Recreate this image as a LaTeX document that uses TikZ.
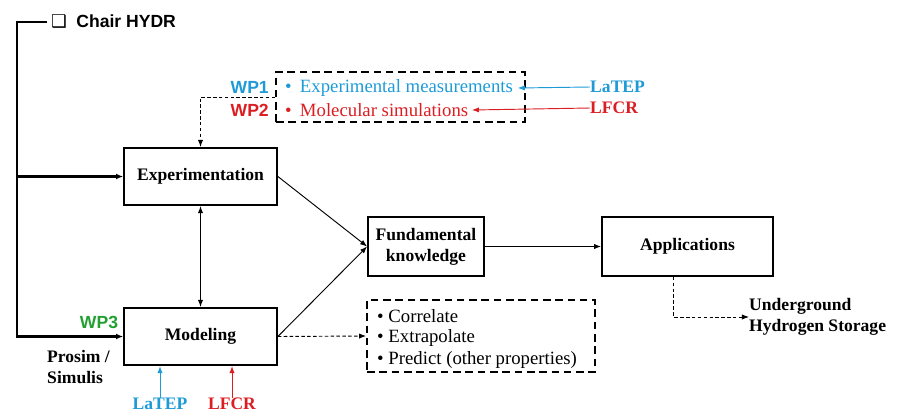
\documentclass[tikz,border=0pt]{standalone}
\usepackage{fontspec}
\setmainfont{Liberation Serif}
\setsansfont{Liberation Sans}
\newfontfamily\dejavu{DejaVu Sans}
\usetikzlibrary{arrows.meta}
\definecolor{wpblue}{RGB}{30,155,215}
\definecolor{wpred}{RGB}{220,30,35}
\definecolor{wpgreen}{RGB}{35,160,50}
\begin{document}
\begin{tikzpicture}[x=0.03cm,y=-0.03cm,
	font=\fontsize{15}{18}\selectfont,
	box/.style={draw,line width=1.5pt,minimum width=4.59cm,minimum height=1.72cm,font=\fontsize{15}{18}\selectfont\bfseries,align=center},
	dbox/.style={draw,line width=1.5pt,dash pattern=on 6.5pt off 4pt},
	arr/.style={line width=0.8pt,-{Latex[length=6pt,width=4.5pt]}},
	darr/.style={arr,dash pattern=on 3pt off 2pt},
	bar/.style={line width=2pt},
	item/.style={anchor=west,inner sep=0pt,font=\fontsize{16}{19}\selectfont}]
	    \useasboundingbox (0,0) rectangle (904,414);
	    \clip (0,0) rectangle (904,414);
	    \node[anchor=west,inner sep=0pt,font=\fontsize{15}{18}\selectfont\sffamily\bfseries] (chair) at (51,22) {{\dejavu ❑}\hspace{8pt}Chair HYDR};
	    \node[box] (exp) at (200.5,176.5) {Experimentation};
	    \node[box] (mod) at (200.5,336.5) {Modeling};
	    \node[box,minimum width=3.48cm,minimum height=1.77cm] (fund) at (426,246.5) {Fundamental\\knowledge};
	    \node[box,minimum width=5.13cm,minimum height=1.77cm] (app) at (687.5,246.5) {Applications};
	    \node[dbox,minimum width=7.47cm,minimum height=1.5cm] (wpbox) at (400.5,97) {};
	    \node[item,text=wpblue] (exp1) at (285,88) {\textbullet\hspace{7pt}Experimental measurements};
	    \node[item,text=wpred] (mol) at (285,110) {\textbullet\hspace{7pt}Molecular simulations};
	    \node[anchor=east,inner sep=0pt,text=wpblue,font=\fontsize{15}{18}\selectfont\sffamily\bfseries] (wp1) at (269,87) {WP1};
	    \node[anchor=east,inner sep=0pt,text=wpred,font=\fontsize{15}{18}\selectfont\sffamily\bfseries] (wp2) at (269,110) {WP2};
	    \node[anchor=west,inner sep=0pt,text=wpblue,font=\fontsize{15}{18}\selectfont\bfseries] (latep) at (590,87) {LaTEP};
	    \node[anchor=west,inner sep=0pt,text=wpred,font=\fontsize{15}{18}\selectfont\bfseries] (lfcr) at (590,108) {LFCR};
	    \node[dbox,minimum width=6.84cm,minimum height=2.16cm] (cbox) at (481,336) {};
	    \node[item] (corr) at (377,316) {\textbullet\hspace{4pt}Correlate};
	    \node[item] (extr) at (377,338) {\textbullet\hspace{4pt}Extrapolate};
	    \node[item] (pred) at (377,360) {\textbullet\hspace{4pt}Predict (other properties)};
	    \node[anchor=west,inner sep=0pt,align=left,font=\fontsize{15}{18}\selectfont\bfseries] (uhs) at (749,317) {Underground\\Hydrogen Storage};
	    \node[inner sep=0pt,text=wpgreen,font=\fontsize{15}{18}\selectfont\sffamily\bfseries] (wp3) at (99,322) {WP3};
	    \node[anchor=west,inner sep=0pt,align=left,font=\fontsize{15}{18}\selectfont\bfseries] (prosim) at (47,367) {Prosim /\\Simulis};
	    \node[inner sep=0pt,text=wpblue,font=\fontsize{15}{18}\selectfont\bfseries] (latepb) at (160,404) {LaTEP};
	    \node[inner sep=0pt,text=wpred,font=\fontsize{15}{18}\selectfont\bfseries] (lfcrb) at (232,404) {LFCR};
	    \coordinate (corner) at (17,336.5);
	    \draw[bar,-{Latex[length=6pt,width=5pt]}] ([xshift=-3pt]chair.west) -| (corner) -- (mod.west);
	    \draw[bar,-{Latex[length=6pt,width=5pt]}] (exp.west -| corner) -- (exp.west);
	    \draw[darr] (wpbox.west) -| (exp.north);
	    \draw[arr,{Latex[length=6pt,width=4.5pt]}-{Latex[length=6pt,width=4.5pt]}] (exp.south) -- (mod.north);
	    \draw[arr] (exp.east) -- (fund.west);
	    \draw[arr] (mod.east) -- (fund.west);
	    \draw[arr] (fund.east) -- (app.west);
	    \draw[darr] (mod.east) -- (cbox.west);
	    \draw[darr] ([xshift=-0.42cm]app.south) |- (uhs.west);
	    \draw[arr,wpblue] (latep.west) -- ([xshift=4pt]exp1.east);
	    \draw[arr,wpred] (lfcr.west) -- ([xshift=3pt]mol.east);
	    \draw[arr,wpblue] (latepb.north) -- (latepb.north |- mod.south);
	    \draw[arr,wpred] (lfcrb.north) -- (lfcrb.north |- mod.south);
\end{tikzpicture}
\end{document}
